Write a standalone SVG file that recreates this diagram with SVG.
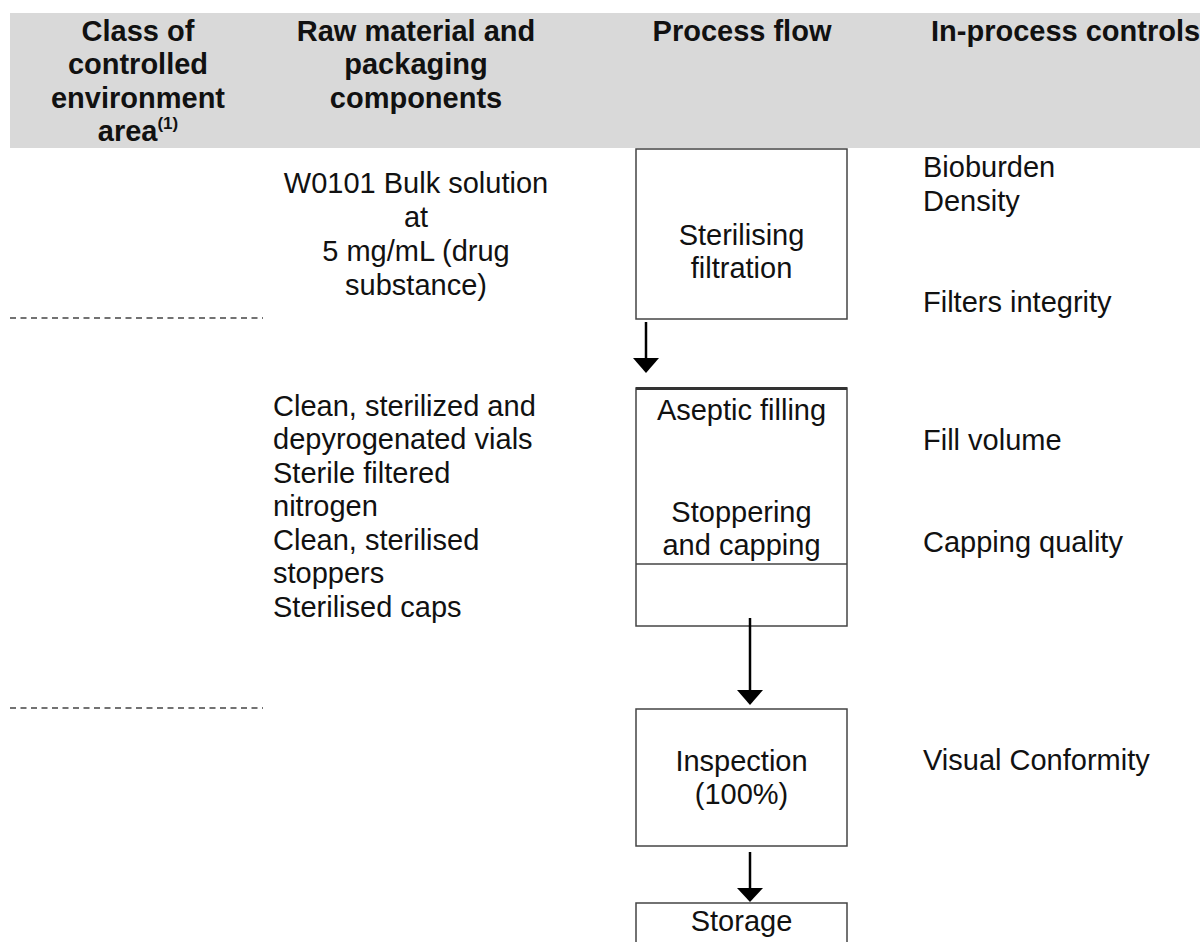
<svg xmlns="http://www.w3.org/2000/svg" width="1200" height="942" viewBox="0 0 1200 942">
<style>
.t{font-family:"Liberation Sans",Arial,sans-serif;font-size:29px;fill:#111}
.h{font-family:"Liberation Sans",Arial,sans-serif;font-size:29px;font-weight:bold;fill:#111}
.c{text-anchor:middle}
.box{fill:#fff;stroke:#444;stroke-width:1.5}
.dash{stroke:#444;stroke-width:1.5;stroke-dasharray:6 4.5}
.conn{stroke:#000;stroke-width:2.5;fill:none}
.head{fill:#000}
</style>
<rect width="1200" height="942" fill="#fff"/>
<g id="header">
<rect x="10" y="13" width="1190" height="135" fill="#d9d9d9"/>
<text class="h c" x="138" y="41">Class of</text>
<text class="h c" x="138" y="74">controlled</text>
<text class="h c" x="138" y="108">environment</text>
<text class="h c" x="138" y="141">area<tspan font-size="17" dy="-12">(1)</tspan></text>
<text class="h c" x="416" y="41">Raw material and</text>
<text class="h c" x="416" y="74">packaging</text>
<text class="h c" x="416" y="108">components</text>
<text class="h c" x="742" y="41">Process flow</text>
<text class="h" x="931" y="41">In-process controls</text>
</g>
<g id="zones">
<line class="dash" x1="10" y1="318" x2="263" y2="318"/>
<line class="dash" x1="10" y1="708" x2="263" y2="708"/>
</g>
<g id="materials1">
<text class="t c" x="416" y="193">W0101 Bulk solution</text>
<text class="t c" x="416" y="227">at</text>
<text class="t c" x="416" y="261">5 mg/mL (drug</text>
<text class="t c" x="416" y="295">substance)</text>
</g>
<g id="materials2">
<text class="t" x="273" y="416">Clean, sterilized and</text>
<text class="t" x="273" y="449">depyrogenated vials</text>
<text class="t" x="273" y="483">Sterile filtered</text>
<text class="t" x="273" y="516">nitrogen</text>
<text class="t" x="273" y="550">Clean, sterilised</text>
<text class="t" x="273" y="583">stoppers</text>
<text class="t" x="273" y="617">Sterilised caps</text>
</g>
<g id="filtration">
<rect class="box" x="636" y="149" width="211" height="170"/>
<text class="t c" x="741.5" y="245">Sterilising</text>
<text class="t c" x="741.5" y="278">filtration</text>
</g>
<g id="filling">
<rect class="box" x="636" y="388" width="211" height="238"/>
<line x1="636" y1="388.5" x2="847" y2="388.5" stroke="#333" stroke-width="3"/>
<line x1="636" y1="564" x2="847" y2="564" stroke="#444" stroke-width="1.5"/>
<text class="t c" x="741.5" y="420">Aseptic filling</text>
<text class="t c" x="741.5" y="522">Stoppering</text>
<text class="t c" x="741.5" y="555">and capping</text>
</g>
<g id="inspection">
<rect class="box" x="636" y="709" width="211" height="137"/>
<text class="t c" x="741.5" y="771">Inspection</text>
<text class="t c" x="741.5" y="804">(100%)</text>
</g>
<g id="storage">
<rect class="box" x="636" y="903" width="211" height="60"/>
<text class="t c" x="741.5" y="931">Storage</text>
</g>
<g id="controls">
<text class="t" x="923" y="177">Bioburden</text>
<text class="t" x="923" y="211">Density</text>
<text class="t" x="923" y="312">Filters integrity</text>
<text class="t" x="923" y="450">Fill volume</text>
<text class="t" x="923" y="552">Capping quality</text>
<text class="t" x="923" y="770">Visual Conformity</text>
</g>
<g id="connectors">
<line class="conn" x1="646" y1="322" x2="646" y2="359"/>
<path class="head" d="M633,358 L659,358 L646,373 Z"/>
<line class="conn" x1="750" y1="618" x2="750" y2="691"/>
<path class="head" d="M737,690 L763,690 L750,705 Z"/>
<line class="conn" x1="750" y1="852" x2="750" y2="889"/>
<path class="head" d="M737,888 L763,888 L750,902 Z"/>
</g>
</svg>
